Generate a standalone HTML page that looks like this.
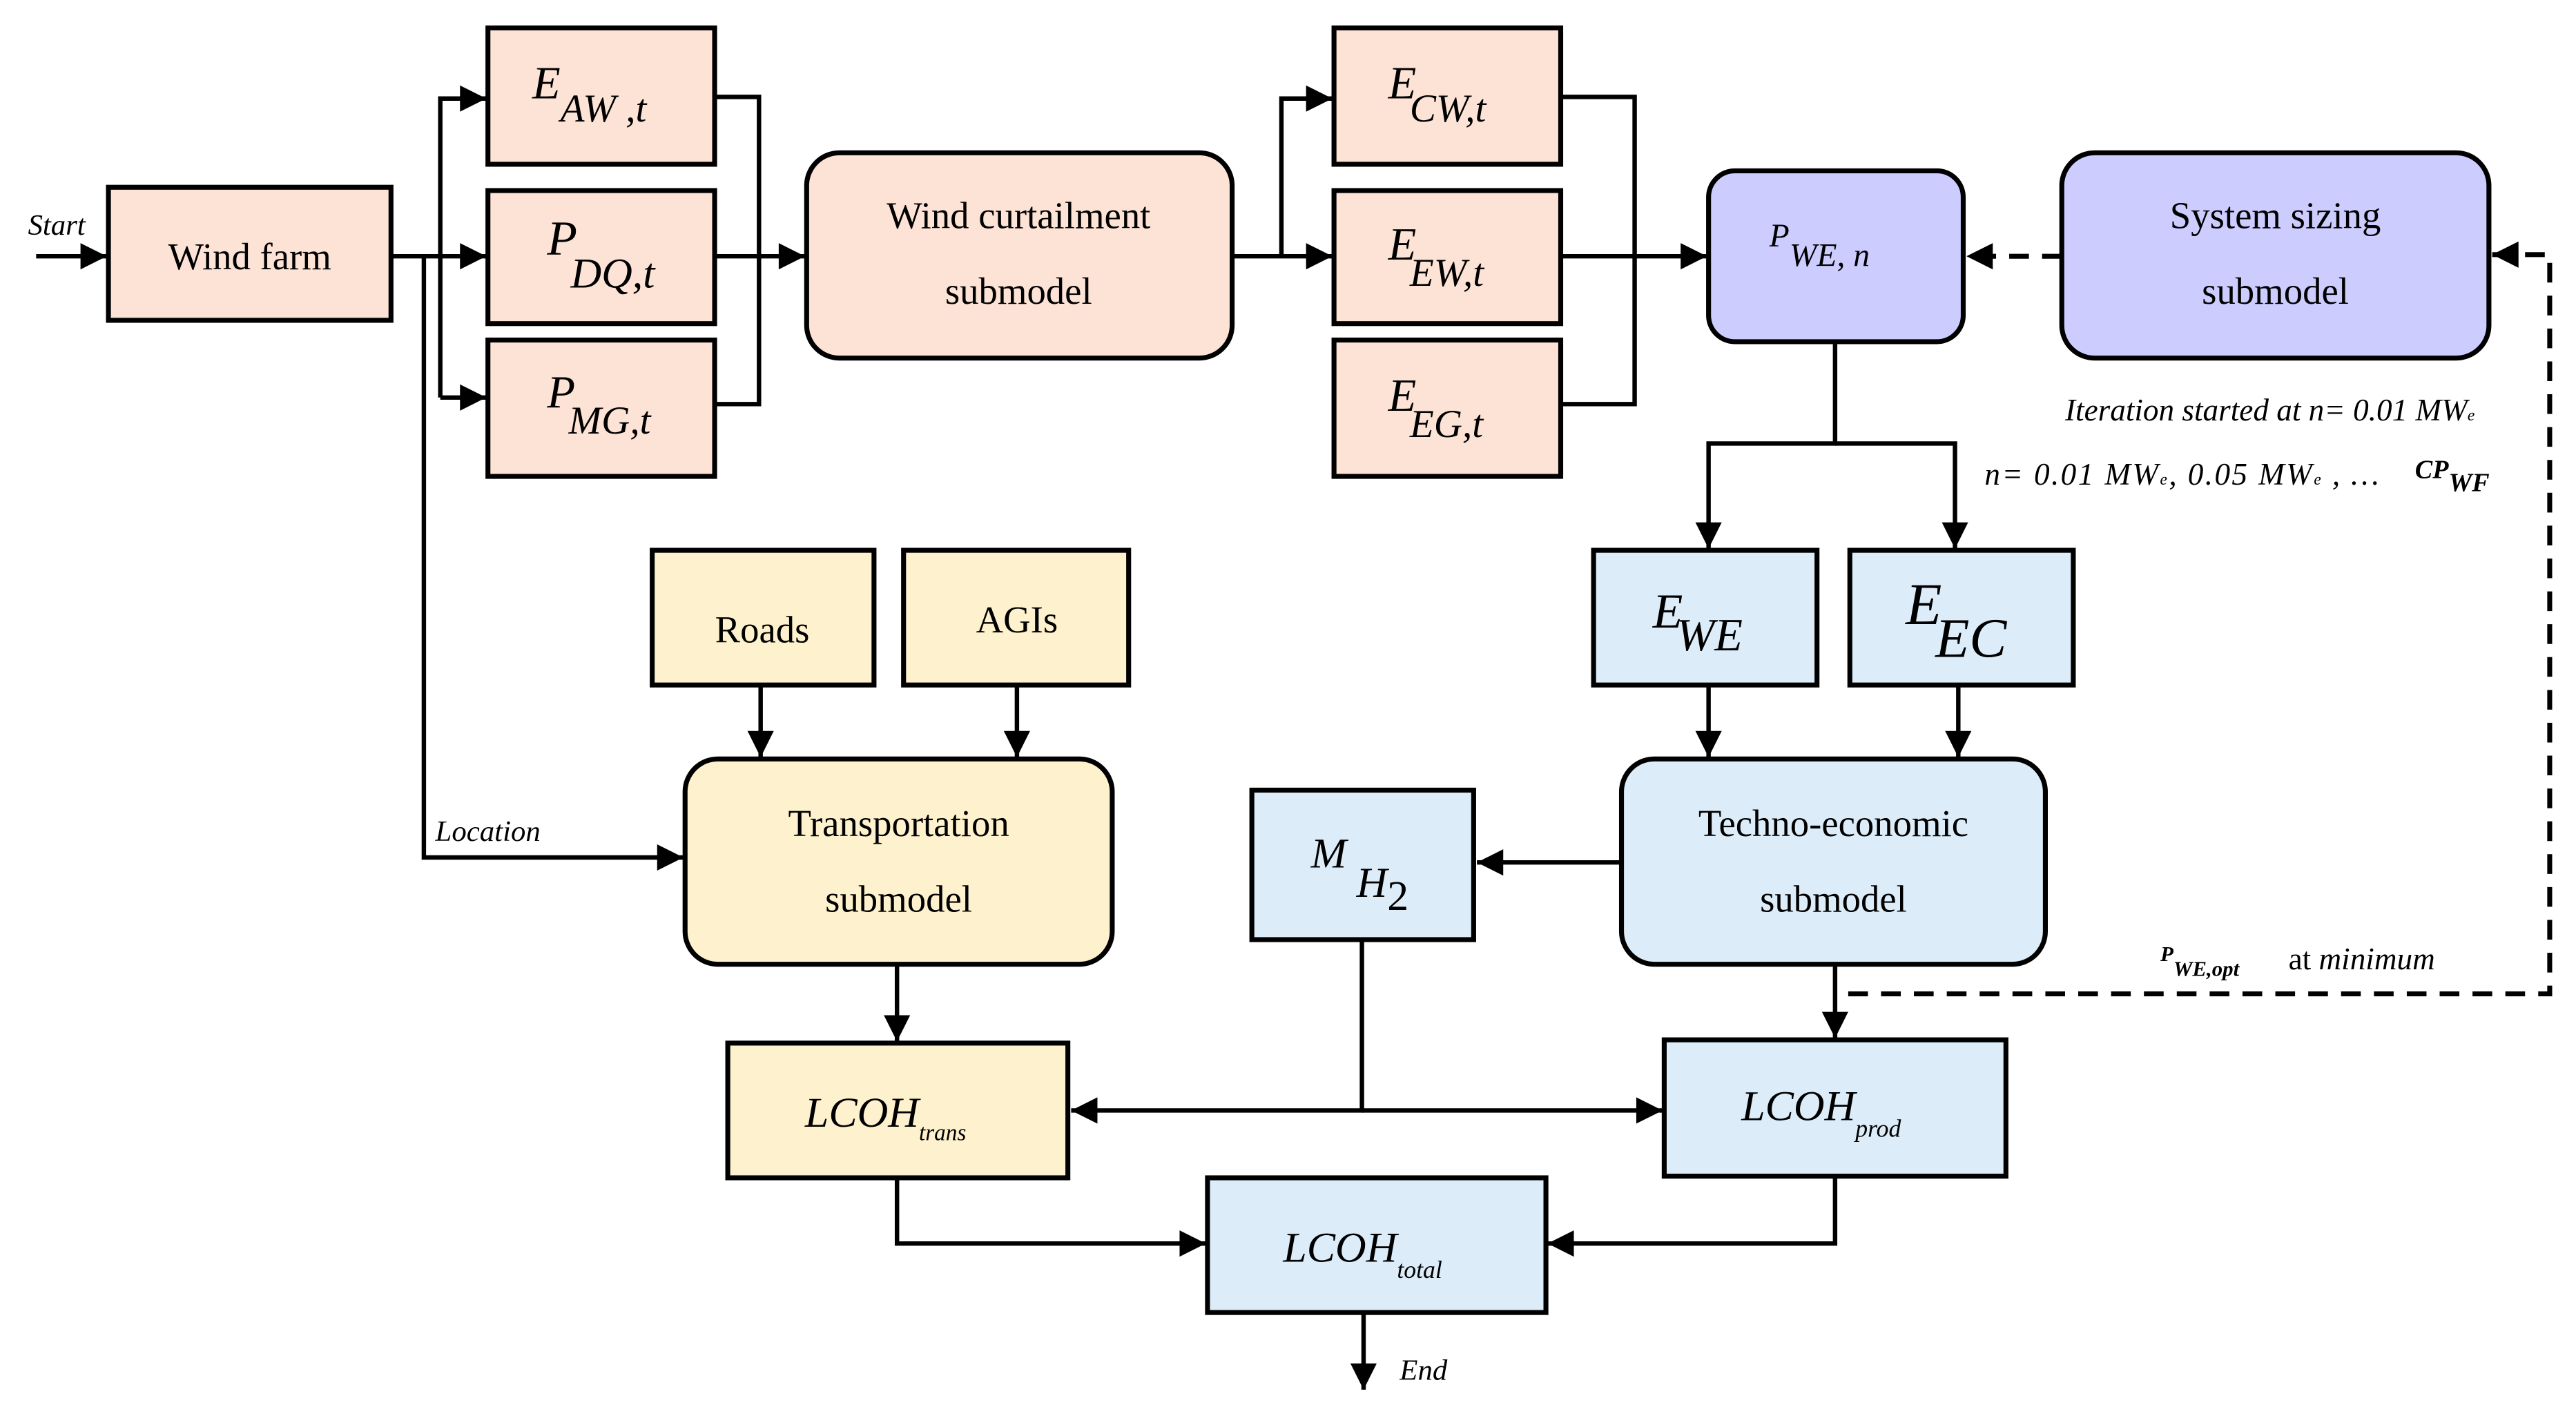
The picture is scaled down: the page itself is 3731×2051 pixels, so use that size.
<!DOCTYPE html>
<html><head><meta charset="utf-8"><style>
html,body{margin:0;padding:0;background:#fff;}
svg{display:block;}
text{font-family:"Liberation Serif","DejaVu Serif",serif;fill:#000;}
</style></head><body>
<svg width="3731" height="2051" viewBox="0 0 1568 862" preserveAspectRatio="none" xmlns="http://www.w3.org/2000/svg" font-family="Liberation Serif, DejaVu Serif, serif">
<defs>
<marker id="a" markerUnits="userSpaceOnUse" markerWidth="20" markerHeight="20" viewBox="0 0 20 20" refX="18" refY="10" orient="auto">
<path d="M2,2 L18,10 L2,18 Z" fill="#000"/></marker>
</defs>
<g stroke="#000" stroke-width="3">
<rect x="66" y="114" width="172" height="81" fill="#fde3d6"/>
<rect x="297" y="17" width="138" height="83" fill="#fde3d6"/>
<rect x="297" y="116" width="138" height="81" fill="#fde3d6"/>
<rect x="297" y="207" width="138" height="83" fill="#fde3d6"/>
<rect x="491" y="93" width="259" height="125" rx="20" fill="#fde3d6"/>
<rect x="812" y="17" width="138" height="83" fill="#fde3d6"/>
<rect x="812" y="116" width="138" height="81" fill="#fde3d6"/>
<rect x="812" y="207" width="138" height="83" fill="#fde3d6"/>
<rect x="1040" y="104" width="155" height="104" rx="16" fill="#ccccff"/>
<rect x="1255" y="93" width="260" height="125" rx="20" fill="#ccccff"/>
<rect x="970" y="335" width="136" height="82" fill="#dcecf8"/>
<rect x="1126" y="335" width="136" height="82" fill="#dcecf8"/>
<rect x="987" y="462" width="258" height="125" rx="20" fill="#dcecf8"/>
<rect x="762" y="481" width="135" height="91" fill="#dcecf8"/>
<rect x="1013" y="633" width="208" height="83" fill="#dcecf8"/>
<rect x="735" y="717" width="206" height="82" fill="#dcecf8"/>
<rect x="397" y="335" width="135" height="82" fill="#fef1cd"/>
<rect x="550" y="335" width="137" height="82" fill="#fef1cd"/>
<rect x="417" y="462" width="260" height="125" rx="20" fill="#fef1cd"/>
<rect x="443" y="635" width="207" height="82" fill="#fef1cd"/>
</g>
<g stroke="#000" stroke-width="2.7" fill="none">
<line x1="22" y1="156" x2="65" y2="156" marker-end="url(#a)"/>
<line x1="238" y1="156" x2="296" y2="156" marker-end="url(#a)"/>
<polyline points="268,242 268,60 296,60" marker-end="url(#a)"/>
<line x1="268" y1="242" x2="296" y2="242" marker-end="url(#a)"/>
<polyline points="258,156 258,522 416,522" marker-end="url(#a)"/>
<polyline points="435,59 462,59 462,246 435,246"/>
<line x1="435" y1="156" x2="490" y2="156" marker-end="url(#a)"/>
<line x1="750" y1="156" x2="811" y2="156" marker-end="url(#a)"/>
<polyline points="780,156 780,60 811,60" marker-end="url(#a)"/>
<polyline points="950,59 995,59 995,246 950,246"/>
<line x1="950" y1="156" x2="1039" y2="156" marker-end="url(#a)"/>
<polyline points="1117,208 1117,270 1040,270 1040,334" marker-end="url(#a)"/>
<polyline points="1117,270 1190,270 1190,334" marker-end="url(#a)"/>
<line x1="1040" y1="417" x2="1040" y2="461" marker-end="url(#a)"/>
<line x1="1192" y1="417" x2="1192" y2="461" marker-end="url(#a)"/>
<line x1="987" y1="525" x2="899" y2="525" marker-end="url(#a)"/>
<line x1="463" y1="417" x2="463" y2="461" marker-end="url(#a)"/>
<line x1="619" y1="417" x2="619" y2="461" marker-end="url(#a)"/>
<line x1="546" y1="587" x2="546" y2="634" marker-end="url(#a)"/>
<line x1="1117" y1="587" x2="1117" y2="632" marker-end="url(#a)"/>
<polyline points="829,572 829,676 652,676" marker-end="url(#a)"/>
<line x1="829" y1="676" x2="1012" y2="676" marker-end="url(#a)"/>
<polyline points="546,717 546,757 734,757" marker-end="url(#a)"/>
<polyline points="1117,716 1117,757 942,757" marker-end="url(#a)"/>
<line x1="830" y1="799" x2="830" y2="846" marker-end="url(#a)"/>
<g stroke-dasharray="12,8" stroke-width="3">
<line x1="1255" y1="156" x2="1197" y2="156" marker-end="url(#a)"/>
<polyline points="1125,605 1552,605 1552,155 1517,155" marker-end="url(#a)"/>
</g>
</g>
<g font-size="23" text-anchor="middle">
<text x="152" y="164">Wind farm</text>
<text x="620" y="139">Wind curtailment</text>
<text x="620" y="185">submodel</text>
<text x="1385" y="139">System sizing</text>
<text x="1385" y="185">submodel</text>
<text x="464" y="391">Roads</text>
<text x="619" y="385">AGIs</text>
<text x="547" y="509">Transportation</text>
<text x="547" y="555">submodel</text>
<text x="1116" y="509">Techno-economic</text>
<text x="1116" y="555">submodel</text>
</g>
<g font-style="italic">
<text x="17" y="143" font-size="18">Start</text>
<text x="265" y="512" font-size="18">Location</text>
<text x="852" y="840" font-size="18">End</text>
<text x="324" y="60" font-size="28">E<tspan font-size="24" dy="14">AW ,t</tspan></text>
<text x="333" y="155" font-size="30">P<tspan font-size="26" dy="20" dx="-4">DQ,t</tspan></text>
<text x="333" y="248" font-size="28">P<tspan font-size="24" dy="16" dx="-4">MG,t</tspan></text>
<text x="845" y="60" font-size="28">E<tspan font-size="24" dy="14" dx="-4">CW,t</tspan></text>
<text x="845" y="158" font-size="28">E<tspan font-size="24" dy="16" dx="-4">EW,t</tspan></text>
<text x="845" y="250" font-size="28">E<tspan font-size="24" dy="16" dx="-4">EG,t</tspan></text>
<text x="1077" y="150" font-size="20">P<tspan font-size="20" dy="12">WE, n</tspan></text>
<text x="1006" y="382" font-size="30">E<tspan font-size="28" dy="14" dx="-4">WE</tspan></text>
<text x="1160" y="380" font-size="36">E<tspan font-size="34" dy="20" dx="-4">EC</tspan></text>
<text x="798" y="528" font-size="26">M<tspan font-size="26" dy="18" dx="6">H</tspan><tspan font-size="26" dy="8" font-style="normal">2</tspan></text>
<text x="490" y="686" font-size="26">LCOH<tspan font-size="14" dy="8">trans</tspan></text>
<text x="1060" y="682" font-size="26">LCOH<tspan font-size="15" dy="10">prod</tspan></text>
<text x="781" y="768" font-size="26">LCOH<tspan font-size="15" dy="10">total</tspan></text>
<text x="1257" y="256" font-size="19">Iteration started at n= 0.01 MW<tspan font-size="10">e</tspan></text>
<text x="1208" y="295" font-size="19" textLength="240">n= 0.01 MW<tspan font-size="10">e</tspan>, 0.05 MW<tspan font-size="10">e</tspan> , …</text>
<text x="1470" y="291" font-size="16" font-weight="bold">CP<tspan font-size="16" dy="8">WF</tspan></text>
<text x="1315" y="585" font-size="13" font-weight="bold">P<tspan dy="9">WE,opt</tspan></text>
<text x="1393" y="590" font-size="19"><tspan font-style="normal">at </tspan>minimum</text>
</g>
</svg>
</body></html>
